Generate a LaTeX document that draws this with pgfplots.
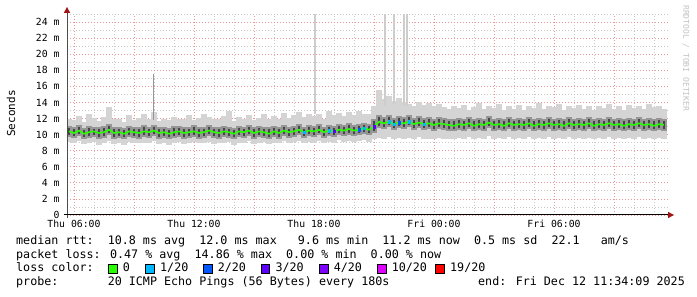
\documentclass[border=0pt]{standalone}
\usepackage{pgfplots}
\pgfplotsset{compat=1.18}
\usepackage{pgfplotstable}
\usepackage{fontspec}
\setmainfont{DejaVu Sans Mono}
\newfontfamily\mono{DejaVu Sans Mono}
\newcommand\legfont{\mono\fontsize{11.7}{14}\selectfont}
\newcommand\tickfont{\mono\fontsize{9.8}{11}\selectfont}
\definecolor{gridminor}{RGB}{200,200,200}
\definecolor{gridmajor}{RGB}{235,150,150}
\definecolor{smokeA}{RGB}{212,212,212}
\definecolor{smokeB}{RGB}{150,150,150}
\definecolor{smokeC}{RGB}{70,70,70}
\definecolor{spike}{RGB}{205,205,205}
\definecolor{spikedark}{RGB}{150,150,150}
\definecolor{loss0}{RGB}{38,255,0}
\definecolor{loss1}{RGB}{0,184,255}
\definecolor{loss2}{RGB}{0,89,255}
\definecolor{loss3}{RGB}{94,0,255}
\definecolor{loss4}{RGB}{126,0,255}
\definecolor{loss10}{RGB}{221,0,255}
\definecolor{loss19}{RGB}{255,0,0}
\definecolor{arrowred}{RGB}{160,20,20}

\pgfplotstableread{
x med lo hi mlo mhi
5.75 10.4 9.1 12.0 9.7 11.1
6.00 10.2 8.9 11.8 9.6 10.9
6.25 10.5 9.2 12.3 9.8 11.2
6.50 10.1 8.8 11.6 9.5 10.8
6.75 10.3 9.0 12.6 9.6 11.1
7.00 10.4 9.1 12.1 9.7 11.0
7.25 10.2 8.7 11.7 9.5 10.9
7.50 10.3 9.0 12.2 9.6 11.1
7.75 10.6 9.2 13.4 9.9 11.3
8.00 10.2 8.8 11.9 9.5 10.9
8.25 10.3 9.0 12.0 9.6 11.0
8.50 10.1 8.7 11.6 9.4 10.8
8.75 10.4 9.1 12.4 9.7 11.1
9.00 10.3 9.0 11.8 9.6 11.0
9.25 10.2 8.9 12.1 9.5 10.9
9.50 10.4 9.0 12.5 9.7 11.2
9.75 10.3 8.9 11.9 9.6 11.0
10.00 10.5 9.2 12.8 9.8 11.2
10.25 10.2 8.8 11.7 9.5 10.9
10.50 10.3 9.0 12.0 9.6 11.0
10.75 10.1 8.7 11.8 9.4 10.8
11.00 10.3 9.0 12.2 9.6 11.1
11.25 10.4 9.1 11.9 9.7 11.1
11.50 10.2 8.8 12.0 9.5 10.9
11.75 10.3 9.0 12.4 9.6 11.0
12.00 10.4 9.1 11.8 9.7 11.2
12.25 10.2 8.9 12.1 9.5 10.9
12.50 10.3 9.0 12.6 9.6 11.0
12.75 10.5 9.1 12.2 9.8 11.2
13.00 10.3 8.8 11.9 9.6 11.0
13.25 10.2 8.9 12.0 9.5 10.9
13.50 10.4 9.0 12.3 9.7 11.1
13.75 10.3 9.1 12.9 9.6 11.0
14.00 10.1 8.7 11.7 9.4 10.8
14.25 10.4 9.0 12.2 9.7 11.1
14.50 10.3 8.9 12.0 9.6 11.0
14.75 10.5 9.2 12.4 9.8 11.2
15.00 10.2 8.8 11.8 9.5 10.9
15.25 10.4 9.0 12.1 9.7 11.1
15.50 10.3 9.1 12.6 9.6 11.0
15.75 10.1 8.8 11.9 9.4 10.9
16.00 10.4 9.0 12.3 9.7 11.1
16.25 10.2 8.9 12.0 9.5 10.9
16.50 10.5 9.2 12.7 9.8 11.2
16.75 10.3 9.0 12.1 9.6 11.0
17.00 10.4 9.1 12.4 9.7 11.1
17.25 10.6 9.2 12.8 9.9 11.3
17.50 10.3 8.9 12.2 9.6 11.0
17.75 10.5 9.1 12.5 9.8 11.2
18.00 10.4 9.0 12.3 9.7 11.1
18.25 10.6 9.2 12.6 9.9 11.3
18.50 10.3 9.0 12.0 9.6 11.0
18.75 10.5 9.1 12.9 9.8 11.2
19.00 10.4 9.0 12.4 9.7 11.1
19.25 10.6 9.3 12.7 9.9 11.3
19.50 10.5 9.1 12.3 9.8 11.2
19.75 10.7 9.2 12.8 10.0 11.4
20.00 10.5 9.1 12.4 9.8 11.2
20.25 10.6 9.2 12.9 9.9 11.3
20.50 10.8 9.3 12.6 10.1 11.5
20.75 10.6 9.1 12.5 9.9 11.3
21.00 11.0 9.4 13.6 10.2 11.9
21.25 11.6 9.6 15.6 10.8 12.4
21.50 11.4 9.5 14.4 10.7 12.2
21.75 11.6 9.7 14.8 10.9 12.4
22.00 11.3 9.4 14.2 10.6 12.1
22.25 11.5 9.6 14.6 10.8 12.3
22.50 11.4 9.5 14.0 10.7 12.2
22.75 11.6 9.6 13.8 10.9 12.4
23.00 11.3 9.4 13.6 10.6 12.1
23.25 11.5 9.7 14.1 10.8 12.3
23.50 11.3 9.5 13.7 10.6 12.1
23.75 11.4 9.5 13.9 10.7 12.2
24.00 11.2 9.4 13.5 10.5 12.0
24.25 11.4 9.6 13.8 10.7 12.2
24.50 11.3 9.5 13.4 10.6 12.1
24.75 11.2 9.4 13.2 10.5 12.0
25.00 11.1 9.5 13.6 10.4 11.9
25.25 11.3 9.6 13.3 10.6 12.1
25.50 11.2 9.5 13.7 10.5 12.0
25.75 11.4 9.7 13.1 10.7 12.2
26.00 11.1 9.4 13.4 10.4 11.9
26.25 11.3 9.6 13.9 10.6 12.1
26.50 11.2 9.5 13.2 10.5 12.0
26.75 11.5 9.8 13.6 10.8 12.3
27.00 11.2 9.4 13.3 10.5 12.0
27.25 11.3 9.6 13.8 10.6 12.1
27.50 11.1 9.5 13.0 10.4 11.9
27.75 11.4 9.7 13.5 10.7 12.2
28.00 11.2 9.5 13.2 10.5 12.0
28.25 11.3 9.6 13.7 10.6 12.1
28.50 11.2 9.4 13.1 10.5 12.0
28.75 11.4 9.7 13.6 10.7 12.2
29.00 11.1 9.5 13.3 10.4 11.9
29.25 11.3 9.6 13.9 10.6 12.1
29.50 11.2 9.5 13.2 10.5 12.0
29.75 11.4 9.7 13.5 10.7 12.2
30.00 11.2 9.5 13.4 10.5 12.0
30.25 11.3 9.6 13.8 10.6 12.1
30.50 11.1 9.4 13.1 10.4 11.9
30.75 11.4 9.7 13.6 10.7 12.2
31.00 11.2 9.5 13.3 10.5 12.0
31.25 11.3 9.6 13.7 10.6 12.1
31.50 11.2 9.5 13.2 10.5 12.0
31.75 11.4 9.6 13.5 10.7 12.2
32.00 11.1 9.4 13.0 10.4 11.9
32.25 11.3 9.6 13.6 10.6 12.1
32.50 11.2 9.5 13.3 10.5 12.0
32.75 11.4 9.7 13.8 10.7 12.2
33.00 11.2 9.5 13.2 10.5 12.0
33.25 11.3 9.6 13.5 10.6 12.1
33.50 11.1 9.4 13.1 10.4 11.9
33.75 11.3 9.6 13.7 10.6 12.1
34.00 11.2 9.5 13.3 10.5 12.0
34.25 11.4 9.7 13.6 10.7 12.2
34.50 11.2 9.5 13.2 10.5 12.0
34.75 11.3 9.6 13.8 10.6 12.1
35.00 11.1 9.4 13.4 10.4 11.9
35.25 11.3 9.6 13.5 10.6 12.1
35.50 11.2 9.5 13.2 10.5 12.0
}\smoke

\pgfplotstableread{
x lo hi
18.05 12.6 25
21.55 13.5 25
22.00 13.8 25
22.50 13.5 25
22.65 13.5 25
}\spikes

\pgfplotsset{
  smokebar/.style 2 args={draw=none, mark=none, forget plot,
    error bars/.cd, y dir=both, y explicit, error mark=none,
    error bar style={draw=#1, line width=#2, solid}},
}

\begin{document}
\begin{tikzpicture}[x=1pt,y=1pt]
\fill[white] (0,0) rectangle (697,297);
\useasboundingbox (0,0) rectangle (697,297);
\begin{axis}[
  at={(67pt,82pt)}, anchor=south west,
  scale only axis, width=601pt, height=201pt,
  xmin=5.65, xmax=35.7, ymin=0, ymax=25,
  axis line style={draw=none},
  tick style={draw=none},
  xtick={6,9,...,33},
  xticklabels={Thu 06:00,,Thu 12:00,,Thu 18:00,,Fri 00:00,,Fri 06:00,},
  minor xtick={7,8,10,11,13,14,16,17,19,20,22,23,25,26,28,29,31,32,34,35},
  ytick={0,2,...,24},
  yticklabels={0,2 m,4 m,6 m,8 m,10 m,12 m,14 m,16 m,18 m,20 m,22 m,24 m},
  minor ytick={1,3,...,25},
  grid=both,
  major grid style={draw=gridmajor, line width=0.8pt, dash pattern=on 1pt off 2pt},
  minor grid style={draw=gridminor, line width=0.8pt, dash pattern=on 1pt off 2pt},
  ticklabel style={font=\tickfont, text=black},
  xticklabel style={yshift=-1.5pt},
  yticklabel style={xshift=-4pt},
]
% outer smoke
\addplot[smokebar={smokeA}{5.3pt}]
  table[x=x, y expr={(\thisrow{lo}+\thisrow{hi})/2}, y error expr={(\thisrow{hi}-\thisrow{lo})/2}] {\smoke};
% tall spikes
\addplot[smokebar={spike}{1.5pt}]
  table[x=x, y expr={(\thisrow{lo}+\thisrow{hi})/2}, y error expr={(\thisrow{hi}-\thisrow{lo})/2}] {\spikes};
\addplot[spikedark, line width=1pt, forget plot] coordinates {(9.95,11.8) (9.95,17.5)};
% middle smoke
\addplot[smokebar={smokeB}{5.3pt}]
  table[x=x, y expr={(\thisrow{mlo}+\thisrow{mhi})/2}, y error expr={(\thisrow{mhi}-\thisrow{mlo})/2}] {\smoke};
% inner smoke streaks
\addplot[smokebar={smokeC}{2.4pt}]
  table[x=x, y expr={(\thisrow{mlo}+\thisrow{mhi})/2}, y error expr={(\thisrow{mhi}-\thisrow{mlo})/2-0.25}] {\smoke};
% median line
\addplot[loss0, line width=1.6pt, forget plot] table[x=x, y=med] {\smoke};
% loss-coloured steps
\addplot[only marks, mark=square*, mark size=1.3pt, loss1, forget plot]
  coordinates {(17.5,10.3) (18.75,10.5) (20.5,10.8) (21.75,11.6) (22.0,11.3) (22.75,11.6) (23.5,11.3)};
\addplot[only marks, mark=square*, mark size=1.3pt, loss2, forget plot]
  coordinates {(20.25,10.6) (22.25,11.5)};
\addplot[only marks, mark=square*, mark size=1.3pt, loss3, forget plot]
  coordinates {(19.0,10.4) (21.0,11.0)};
\end{axis}
% axis lines with arrows
\draw[black!70, line width=1pt] (67,79) -- (67,284);
\fill[arrowred] (63.8,284) -- (70.2,284) -- (67,290) -- cycle;
\draw[black, line width=1pt] (64,82) -- (668,82);
\fill[arrowred] (668,78.8) -- (668,85.2) -- (674,82) -- cycle;
% y label
\node[font=\mono\fontsize{11}{13}\selectfont, rotate=90] at (11,183.5) {Seconds};
% credit
\node[font=\mono\fontsize{8}{9}\selectfont, text={rgb,255:red,195;green,195;blue,195}, rotate=-90, anchor=west, inner sep=0] at (686,292) {RRDTOOL / TOBI OETIKER};
% legend
\begin{scope}[every node/.style={inner sep=0, anchor=base west, font=\legfont}]
\node at (16,52.5) {median rtt:~~10.8 ms avg~~12.0 ms max~~~9.6 ms min~~11.2 ms now~~0.5 ms sd~~22.1~~~am/s};
\node at (16,38.5) {packet loss: 0.47 \% avg~~14.86 \% max~~0.00 \% min~~0.00 \% now};
\node at (16,25) {loss color:};
\node at (122.6,25) {0};
\node at (160,25) {1/20};
\node at (217.6,25) {2/20};
\node at (275.3,25) {3/20};
\node at (333.6,25) {4/20};
\node at (391.6,25) {10/20};
\node at (450,25) {19/20};
\node at (16,11) {probe:~~~~~~~20 ICMP Echo Pings (56 Bytes) every 180s};
\node at (478,11) {end: Fri Dec 12 11:34:09 2025};
\end{scope}
\begin{scope}[draw=black, line width=0.7pt]
\filldraw[fill=loss0] (108.3,23.7) rectangle ++(8.6,8.6);
\filldraw[fill=loss1] (145.7,23.7) rectangle ++(8.6,8.6);
\filldraw[fill=loss2] (203.3,23.7) rectangle ++(8.6,8.6);
\filldraw[fill=loss3] (261,23.7) rectangle ++(8.6,8.6);
\filldraw[fill=loss4] (319.3,23.7) rectangle ++(8.6,8.6);
\filldraw[fill=loss10] (377.3,23.7) rectangle ++(8.6,8.6);
\filldraw[fill=loss19] (435.7,23.7) rectangle ++(8.6,8.6);
\end{scope}
\end{tikzpicture}
\end{document}
